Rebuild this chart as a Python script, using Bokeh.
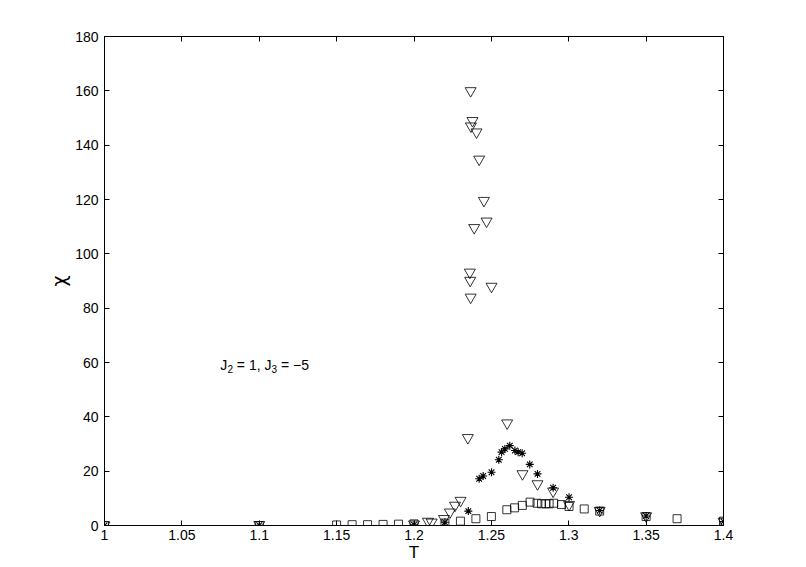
from bokeh.plotting import figure
from bokeh.models import Range1d, LinearAxis, FixedTicker, Label
from bokeh.embed import file_html
from bokeh.resources import INLINE

# ---- data ----
tri_T = [1.0, 1.1, 1.2, 1.209, 1.2114, 1.2194, 1.2232, 1.2265, 1.2301, 1.2348,
         1.2366, 1.2378, 1.2368, 1.2404, 1.2421, 1.2452, 1.2469, 1.2389, 1.2361,
         1.2363, 1.2501, 1.2366, 1.2602, 1.2701, 1.2798, 1.2899, 1.3002, 1.32,
         1.35, 1.40]
tri_chi = [0.2, 0.3, 0.5, 1.5, 1.2, 2.5, 4.9, 7.4, 9.2, 32.3,
           160.0, 149.0, 147.0, 144.8, 134.8, 119.6, 112.0, 109.6, 93.2,
           90.2, 88.0, 84.0, 37.7, 19.0, 15.3, 12.6, 7.7, 5.5,
           3.5, 1.5]

ast_T = [1.0, 1.1, 1.2, 1.22, 1.2351, 1.2421, 1.2447, 1.2501, 1.2548, 1.2566,
         1.2587, 1.2619, 1.2652, 1.2673, 1.2699, 1.2748, 1.2798, 1.2899, 1.3002,
         1.32, 1.35, 1.40]
ast_chi = [0.0, 0.1, 0.3, 1.2, 5.3, 17.2, 18.2, 19.6, 24.2, 27.0,
           28.2, 29.4, 27.6, 27.0, 26.6, 22.5, 19.0, 13.9, 10.4,
           5.5, 3.5, 1.5]

sq_T = [1.0, 1.1, 1.15, 1.16, 1.17, 1.18, 1.19, 1.2, 1.22, 1.23, 1.24, 1.25,
        1.26, 1.265, 1.27, 1.275, 1.2795, 1.2824, 1.2852, 1.2873, 1.2903,
        1.2953, 1.3002, 1.31, 1.32, 1.35, 1.37, 1.40]
sq_chi = [0.0, 0.0, 0.2, 0.3, 0.3, 0.4, 0.5, 0.6, 0.9, 1.6, 2.5, 3.3,
          5.8, 6.5, 7.4, 8.6, 8.2, 8.0, 8.0, 8.0, 8.2,
          7.7, 7.0, 6.1, 5.3, 3.3, 2.5, 1.6]

x_ticks = [1.0, 1.05, 1.1, 1.15, 1.2, 1.25, 1.3, 1.35, 1.4]
x_tick_labels = ["1", "1.05", "1.1", "1.15", "1.2", "1.25", "1.3", "1.35", "1.4"]
y_ticks = [0, 20, 40, 60, 80, 100, 120, 140, 160, 180]

annot_T = 1.0748
annot_chi = 58.9

FONT = "Liberation Sans"

p = figure(frame_width=619, frame_height=489, output_backend="svg",
           toolbar_location=None,
           x_range=Range1d(1.0, 1.4), y_range=Range1d(0, 180),
           min_border_left=104, min_border_right=60, min_border_top=36,
           min_border_bottom=30)
p.background_fill_color = "white"
p.border_fill_color = "white"
p.outline_line_color = "black"
p.outline_line_width = 1
p.grid.visible = False

def base_style(ax):
    ax.major_tick_in = 5
    ax.major_tick_out = 0
    ax.minor_tick_in = 0
    ax.minor_tick_out = 0
    ax.axis_line_color = "black"
    ax.major_tick_line_color = "black"
    ax.major_label_text_font = FONT
    ax.major_label_text_font_size = "14px"
    ax.major_label_text_color = "black"
    ax.axis_label_text_font_style = "normal"
    ax.axis_label_text_color = "black"

xa = p.xaxis[0]
base_style(xa)
xa.ticker = FixedTicker(ticks=x_ticks)
xa.major_label_overrides = {t: l for t, l in zip(x_ticks, x_tick_labels)}
xa.axis_label = "T"
xa.axis_label_text_font = FONT
xa.axis_label_text_font_size = "17px"
xa.major_label_standoff = 4
xa.axis_label_standoff = 0

ya = p.yaxis[0]
base_style(ya)
ya.ticker = FixedTicker(ticks=y_ticks)
ya.axis_label = "χ"
ya.axis_label_text_font = "DejaVu Sans"
ya.axis_label_text_font_size = "19px"
ya.major_label_standoff = 6
ya.axis_label_standoff = 2

top = LinearAxis(ticker=FixedTicker(ticks=x_ticks), major_label_text_alpha=0,
                 major_label_text_font_size="1px", major_label_standoff=0)
right = LinearAxis(ticker=FixedTicker(ticks=y_ticks), major_label_text_alpha=0,
                   major_label_text_font_size="1px", major_label_standoff=0)
for ax in (top, right):
    ax.major_tick_in = 5
    ax.major_tick_out = 0
    ax.minor_tick_in = 0
    ax.minor_tick_out = 0
    ax.axis_line_color = "black"
    ax.major_tick_line_color = "black"
p.add_layout(top, "above")
p.add_layout(right, "right")

p.scatter(sq_T, sq_chi, marker="square", size=8, fill_color=None,
          line_color="black", line_width=0.8)
p.scatter(ast_T, ast_chi, marker="asterisk", size=8,
          line_color="black", line_width=1.1)
p.scatter(tri_T, tri_chi, marker="inverted_triangle", size=11, fill_color=None,
          line_color="black", line_width=0.8)

# annotation "J2 = 1, J3 = -5" with subscripts
parts = [("J", 0.0, 0, "14px"), ("2", 7.2, -4, "10px"),
         ("= 1, J", 16.6, 0, "14px"), ("3", 51.3, -4, "10px"),
         ("= −5", 60.8, 0, "14px")]
for txt, dx, dy, fs in parts:
    p.add_layout(Label(x=annot_T, y=annot_chi, x_offset=dx, y_offset=dy,
                       text=txt, text_font=FONT, text_font_size=fs,
                       text_color="black", text_baseline="alphabetic",
                       text_align="left"))

open("out.html", "w").write(file_html(p, INLINE))
